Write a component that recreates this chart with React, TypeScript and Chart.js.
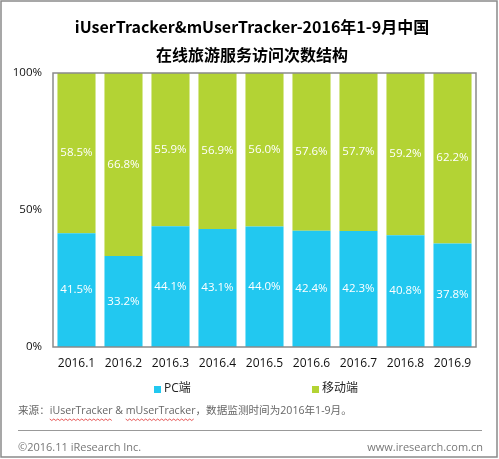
import React, { useEffect, useRef } from "react";
import { Chart, registerables } from "chart.js";

Chart.register(...registerables);

const categories = ["2016.1", "2016.2", "2016.3", "2016.4", "2016.5", "2016.6", "2016.7", "2016.8", "2016.9"];
const pcValues = [41.5, 33.2, 44.1, 43.1, 44.0, 42.4, 42.3, 40.8, 37.8];
const mobileValues = [58.5, 66.8, 55.9, 56.9, 56.0, 57.6, 57.7, 59.2, 62.2];
const seriesNames = ["PC端", "移动端"];
const yTicks = [0, 50, 100];
const titleLines = ["iUserTracker&mUserTracker-2016年1-9月中国", "在线旅游服务访问次数结构"];
const sourceText = "来源：iUserTracker & mUserTracker，数据监测时间为2016年1-9月。";
const footerLeft = "©2016.11 iResearch Inc.";
const footerRight = "www.iresearch.com.cn";

const BLUE = "#22c8f0";
const GREEN = "#b3d334";
const FONT = '"Open Sans", "Noto Sans CJK SC", sans-serif';
const CJK = '"Noto Sans CJK SC", "Open Sans", sans-serif';

const decorPlugin = {
  id: "decor",
  afterDatasetsDraw(chart: any) {
    const ctx = chart.ctx;
    ctx.save();
    ctx.fillStyle = "#ffffff";
    ctx.font = `11.5px ${FONT}`;
    ctx.textAlign = "center";
    ctx.textBaseline = "middle";
    chart.data.datasets.forEach((ds: any, di: number) => {
      const meta = chart.getDatasetMeta(di);
      meta.data.forEach((el: any, i: number) => {
        const p = el.getProps(["x", "y", "base"], true);
        ctx.fillText(ds.data[i].toFixed(1) + "%", p.x, (p.y + p.base) / 2);
      });
    });
    ctx.restore();
  },
  afterDraw(chart: any) {
    const ctx = chart.ctx;
    const a = chart.chartArea;
    const W = chart.width;
    ctx.save();
    // plot border
    ctx.strokeStyle = "#8a8a8a";
    ctx.lineWidth = 1.5;
    ctx.strokeRect(a.left, a.top, a.right - a.left, a.bottom - a.top);
    // outer frame
    ctx.strokeStyle = "#8a8a8a";
    ctx.lineWidth = 1.5;
    ctx.strokeRect(1, 1, W - 3, chart.height - 3);
    // title
    ctx.fillStyle = "#000";
    ctx.textAlign = "center";
    ctx.textBaseline = "middle";
    ctx.font = `bold 16px ${CJK}`;
    ctx.fillText(titleLines[0], 252, 27);
    ctx.fillText(titleLines[1], 252, 55);
    // legend
    ctx.textAlign = "left";
    ctx.font = `12px ${FONT}`;
    const legendX = [154, 312];
    const colors = [BLUE, GREEN];
    seriesNames.forEach((n, i) => {
      ctx.fillStyle = colors[i];
      ctx.fillRect(legendX[i], 386, 7, 7);
      ctx.fillStyle = "#222";
      ctx.fillText(n, legendX[i] + 10, 389);
    });
    // source
    ctx.fillStyle = "#666";
    ctx.font = `10.6px ${FONT}`;
    ctx.fillText(sourceText, 18, 411);
    // spelling squiggles
    const pre = "来源：";
    const x1 = 18 + ctx.measureText(pre).width;
    const w1 = ctx.measureText("iUserTracker").width;
    const x2 = 18 + ctx.measureText("来源：iUserTracker & ").width;
    const w2 = ctx.measureText("mUserTracker").width;
    ctx.strokeStyle = "#e03030";
    ctx.lineWidth = 0.8;
    [[x1, w1], [x2, w2]].forEach(([sx, sw]) => {
      ctx.beginPath();
      for (let x = 0; x <= sw; x += 2) {
        const yy = 419 + ((x / 2) % 2 === 0 ? 0 : 1.5);
        if (x === 0) ctx.moveTo(sx + x, yy);
        else ctx.lineTo(sx + x, yy);
      }
      ctx.stroke();
    });
    // footer line
    ctx.strokeStyle = "#999";
    ctx.lineWidth = 1;
    ctx.beginPath();
    ctx.moveTo(18, 430.5);
    ctx.lineTo(482, 430.5);
    ctx.stroke();
    // footer texts
    ctx.fillStyle = "#777";
    ctx.font = `11px ${FONT}`;
    ctx.textAlign = "left";
    ctx.fillText(footerLeft, 18, 448);
    ctx.textAlign = "right";
    ctx.fillText(footerRight, 483, 448);
    ctx.restore();
  },
};

export default function App() {
  const ref = useRef<HTMLCanvasElement | null>(null);
  useEffect(() => {
    document.body.style.margin = "0";
    const chart = new Chart(ref.current as HTMLCanvasElement, {
      type: "bar",
      data: {
        labels: categories,
        datasets: [
          { label: seriesNames[0], data: pcValues, backgroundColor: BLUE, barPercentage: 0.81, categoryPercentage: 1 },
          { label: seriesNames[1], data: mobileValues, backgroundColor: GREEN, barPercentage: 0.81, categoryPercentage: 1 },
        ],
      },
      options: {
        animation: false,
        responsive: false,
        maintainAspectRatio: false,
        layout: { padding: { left: 0, right: 23, top: 73, bottom: 82 } },
        plugins: { legend: { display: false }, title: { display: false }, tooltip: { enabled: false } },
        scales: {
          x: {
            stacked: true,
            grid: { display: false, drawTicks: false },
            border: { display: false },
            ticks: { color: "#111", font: { size: 12, family: FONT }, padding: 9 },
            afterFit: (s: any) => { s.height = 30; },
          },
          y: {
            stacked: true,
            min: 0,
            max: 100,
            afterBuildTicks: (s: any) => { s.ticks = yTicks.map((v) => ({ value: v })); },
            grid: { display: false, drawTicks: false },
            border: { display: false },
            ticks: { color: "#111", font: { size: 11.5, family: FONT }, padding: 11, callback: (v: any) => v + "%" },
            afterFit: (s: any) => { s.width = 53; },
          },
        },
      },
      plugins: [decorPlugin],
    });
    return () => chart.destroy();
  }, []);
  return <canvas ref={ref} width={499} height={459} style={{ display: "block" }} />;
}
